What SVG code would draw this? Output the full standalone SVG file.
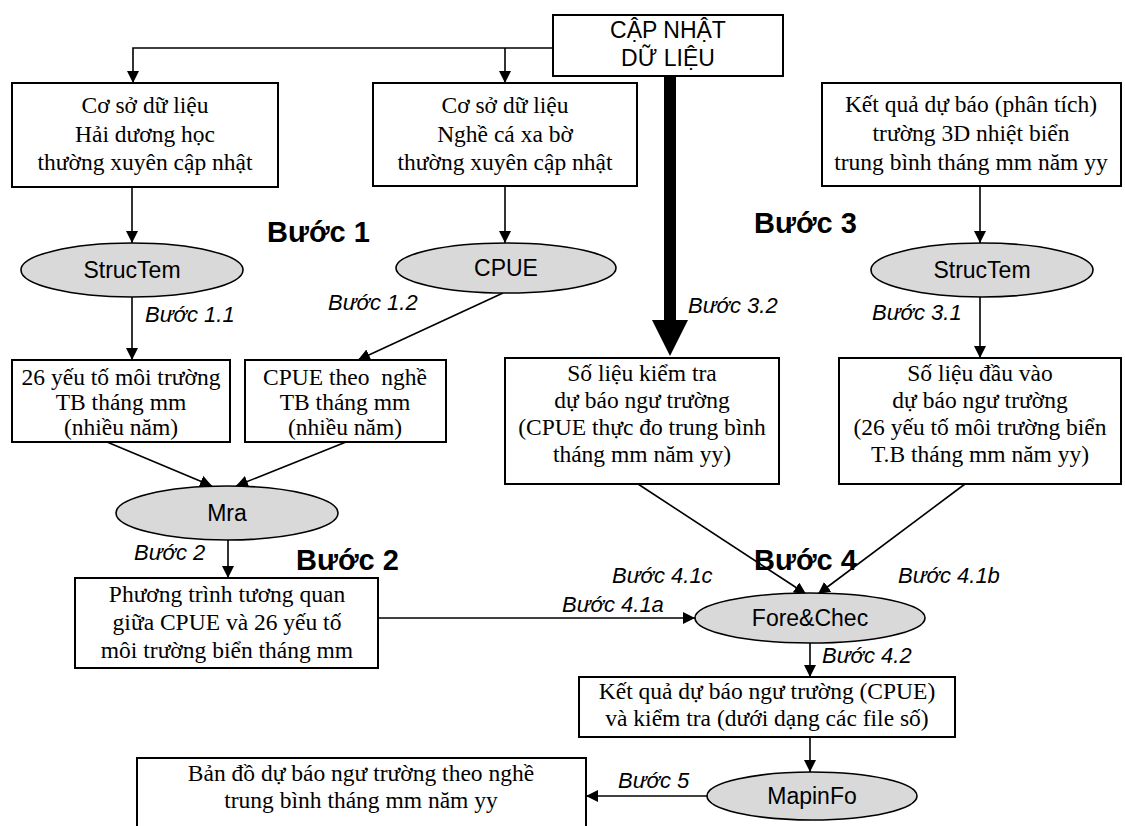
<svg xmlns="http://www.w3.org/2000/svg" width="1125" height="826" viewBox="0 0 1125 826">
<defs>
<style>
.box{fill:#fff;stroke:#000;stroke-width:2}
.ell{fill:#d9d9d9;stroke:#000;stroke-width:1.6}
.t{font-family:"Liberation Serif","Times New Roman",serif;font-size:23.5px;fill:#000;text-anchor:middle}
.s{font-family:"Liberation Sans",Arial,sans-serif;font-size:23px;fill:#000;text-anchor:middle}
.i{font-family:"Liberation Sans",Arial,sans-serif;font-size:22px;font-style:italic;fill:#000}
.b{font-family:"Liberation Sans",Arial,sans-serif;font-size:29px;font-weight:bold;fill:#000}
.c{fill:none;stroke:#000;stroke-width:1.6}
</style>
<marker id="ah" viewBox="0 0 12 12" refX="12" refY="6" markerWidth="12" markerHeight="12" markerUnits="userSpaceOnUse" orient="auto">
<path d="M0,0 L12,6 L0,12 Z" fill="#000"/>
</marker>
</defs>
<rect width="1125" height="826" fill="#fff"/>

<g id="connectors">
<path class="c" d="M553,48 H133 V83" marker-end="url(#ah)"/>
<path class="c" d="M505,48 V83" marker-end="url(#ah)"/>
<path d="M664,76 H676 V320 H688 L670,356 L652,320 H664 Z" fill="#000"/>
<path class="c" d="M132,187 V243" marker-end="url(#ah)"/>
<path class="c" d="M505,186 V243" marker-end="url(#ah)"/>
<path class="c" d="M980,186 V243" marker-end="url(#ah)"/>
<path class="c" d="M132,297 V360" marker-end="url(#ah)"/>
<path class="c" d="M503,293 L358,360" marker-end="url(#ah)"/>
<path class="c" d="M980,297 V358" marker-end="url(#ah)"/>
<path class="c" d="M107,442 L212,486" marker-end="url(#ah)"/>
<path class="c" d="M346,442 L236,486" marker-end="url(#ah)"/>
<path class="c" d="M228,540 V578" marker-end="url(#ah)"/>
<path class="c" d="M638,484 L806,594" marker-end="url(#ah)"/>
<path class="c" d="M965,484 L818,594" marker-end="url(#ah)"/>
<path class="c" d="M378,618 H695" marker-end="url(#ah)"/>
<path class="c" d="M810,643 V677" marker-end="url(#ah)"/>
<path class="c" d="M810,737 V772" marker-end="url(#ah)"/>
<path class="c" d="M707,796 H586" marker-end="url(#ah)"/>
</g>

<g id="capnhat">
<rect class="box" x="553" y="15" width="230" height="61"/>
<text class="s" x="668" y="38">CẬP NHẬT</text>
<text class="s" x="668" y="66">DỮ LIỆU</text>
</g>

<g id="db-haiduong">
<rect class="box" x="12" y="83" width="266" height="104"/>
<text class="t" x="145" y="113">Cơ sở dữ liệu</text>
<text class="t" x="145" y="142">Hải dương học</text>
<text class="t" x="145" y="170">thường xuyên cập nhật</text>
</g>

<g id="db-nghe">
<rect class="box" x="373" y="83" width="264" height="103"/>
<text class="t" x="505" y="113">Cơ sở dữ liệu</text>
<text class="t" x="505" y="142">Nghề cá xa bờ</text>
<text class="t" x="505" y="170">thường xuyên cập nhật</text>
</g>

<g id="ketqua3d">
<rect class="box" x="822" y="83" width="299" height="103"/>
<text class="t" x="971" y="112">Kết quả dự báo (phân tích)</text>
<text class="t" x="971" y="141">trường 3D nhiệt biển</text>
<text class="t" x="971" y="170">trung bình tháng mm năm yy</text>
</g>

<g id="structem1">
<ellipse class="ell" cx="132" cy="270" rx="111" ry="27"/>
<text class="s" x="132" y="278">StrucTem</text>
</g>

<g id="cpue">
<ellipse class="ell" cx="506" cy="268" rx="110" ry="25"/>
<text class="s" x="506" y="276">CPUE</text>
</g>

<g id="structem2">
<ellipse class="ell" cx="982" cy="270" rx="111" ry="27"/>
<text class="s" x="982" y="278">StrucTem</text>
</g>

<g id="box-26">
<rect class="box" x="12" y="360" width="218" height="82"/>
<text class="t" x="121" y="385">26 yếu tố môi trường</text>
<text class="t" x="121" y="410">TB tháng mm</text>
<text class="t" x="121" y="435">(nhiều năm)</text>
</g>

<g id="box-cpue">
<rect class="box" x="245" y="360" width="201" height="82"/>
<text class="t" x="345" y="385" xml:space="preserve">CPUE theo  nghề</text>
<text class="t" x="345" y="410">TB tháng mm</text>
<text class="t" x="345" y="435">(nhiều năm)</text>
</g>

<g id="box-kiemtra">
<rect class="box" x="505" y="358" width="274" height="126"/>
<text class="t" x="642" y="381">Số liệu kiểm tra</text>
<text class="t" x="642" y="408">dự báo ngư trường</text>
<text class="t" x="642" y="435">(CPUE thực đo trung bình</text>
<text class="t" x="642" y="462">tháng mm năm yy)</text>
</g>

<g id="box-daouvao">
<rect class="box" x="839" y="358" width="282" height="126"/>
<text class="t" x="980" y="381">Số liệu đầu vào</text>
<text class="t" x="980" y="408">dự báo ngư trường</text>
<text class="t" x="980" y="435">(26 yếu tố môi trường biển</text>
<text class="t" x="980" y="462">T.B tháng mm năm yy)</text>
</g>

<g id="mra">
<ellipse class="ell" cx="227" cy="513" rx="111" ry="27"/>
<text class="s" x="227" y="521">Mra</text>
</g>

<g id="box-phuongtrinh">
<rect class="box" x="75" y="578" width="303" height="90"/>
<text class="t" x="227" y="602">Phương trình tương quan</text>
<text class="t" x="227" y="630">giữa CPUE và 26 yếu tố</text>
<text class="t" x="227" y="658">môi trường biển tháng mm</text>
</g>

<g id="forechec">
<ellipse class="ell" cx="810" cy="618" rx="115" ry="25"/>
<text class="s" x="810" y="626">Fore&amp;Chec</text>
</g>

<g id="box-ketqua">
<rect class="box" x="579" y="677" width="376" height="60"/>
<text class="t" x="767" y="699">Kết quả dự báo ngư trường (CPUE)</text>
<text class="t" x="767" y="726">và kiểm tra (dưới dạng các file số)</text>
</g>

<g id="mapinfo">
<ellipse class="ell" cx="812" cy="796" rx="105" ry="24"/>
<text class="s" x="812" y="804">MapinFo</text>
</g>

<g id="box-bando">
<rect class="box" x="137" y="758" width="449" height="82"/>
<text class="t" x="361" y="781">Bản đồ dự báo ngư trường theo nghề</text>
<text class="t" x="361" y="808">trung bình tháng mm năm yy</text>
</g>

<g id="labels">
<text class="b" x="267" y="242">Bước 1</text>
<text class="b" x="754" y="233">Bước 3</text>
<text class="b" x="296" y="570">Bước 2</text>
<text class="b" x="754" y="570">Bước 4</text>
<text class="i" x="145" y="322">Bước 1.1</text>
<text class="i" x="328" y="310">Bước 1.2</text>
<text class="i" x="688" y="313">Bước 3.2</text>
<text class="i" x="872" y="320">Bước 3.1</text>
<text class="i" x="134" y="560">Bước 2</text>
<text class="i" x="612" y="583">Bước 4.1c</text>
<text class="i" x="898" y="583">Bước 4.1b</text>
<text class="i" x="562" y="612">Bước 4.1a</text>
<text class="i" x="822" y="663">Bước 4.2</text>
<text class="i" x="618" y="788">Bước 5</text>
</g>
</svg>
